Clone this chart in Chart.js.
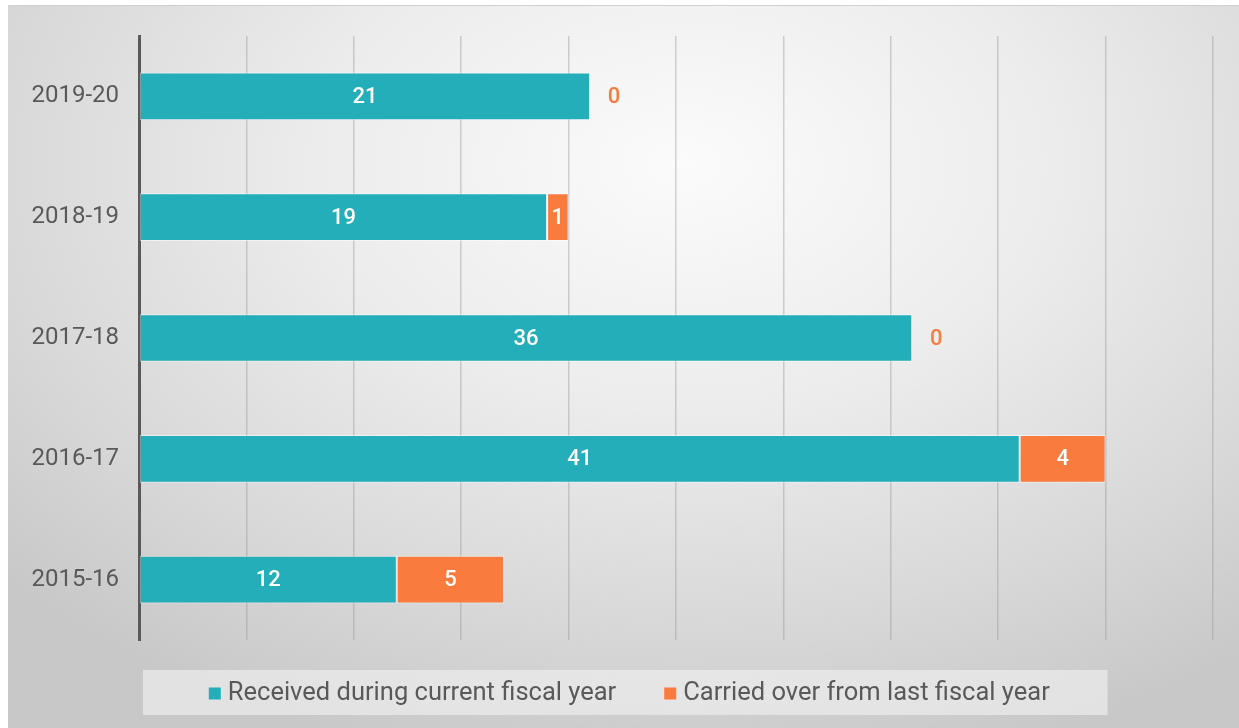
<!DOCTYPE html>
<html>
<head>
<meta charset="utf-8">
<script src="https://cdn.jsdelivr.net/npm/chart.js@4"></script>
<style>
  html, body { margin: 0; padding: 0; background: #fff; }
  #bg {
    position: absolute; left: 8px; top: 5px; width: 1231px; height: 723px;
    border-top: 1px solid #cfcfcf;
    background: radial-gradient(ellipse 75% 85% at 55% 22%, #fbfbfb 0%, #ececec 40%, #d8d8d8 75%, #c8c8c8 100%);
  }
  #wrap { position: absolute; left: 0; top: 0; width: 1239px; height: 728px; }
</style>
</head>
<body>
<div id="bg"></div>
<div id="wrap"><canvas id="myChart" width="1239" height="728"></canvas></div>
<script>
// data
var categories = ['2019-20', '2018-19', '2017-18', '2016-17', '2015-16'];
var receivedCurrent = [21, 19, 36, 41, 12];
var carriedOver = [0, 1, 0, 4, 5];
var seriesNames = ['Received during current fiscal year', 'Carried over from last fiscal year'];
var xMax = 50;
var xStep = 5;

var teal = '#23AEB9';
var orange = '#F97B3D';
var textGrey = '#595959';

// draws the value labels, zero values go just past the bar in orange
var valueLabels = {
    id: 'valueLabels',
    afterDatasetsDraw: function (chart) {
        var ctx = chart.ctx;
        ctx.save();
        ctx.font = '500 22px Roboto';
        ctx.textBaseline = 'middle';
        ctx.textAlign = 'center';
        chart.data.datasets.forEach(function (ds, i) {
            var meta = chart.getDatasetMeta(i);
            meta.data.forEach(function (bar, j) {
                var v = ds.data[j];
                if (v === 0) {
                    ctx.fillStyle = orange;
                    ctx.fillText(v, bar.x + 24, bar.y + 1);
                } else {
                    ctx.fillStyle = '#ffffff';
                    ctx.fillText(v, (bar.x + bar.base) / 2, bar.y + 1);
                }
            });
        });
        ctx.restore();
    }
};

// legend drawn by hand so the spacing can match (box behind it too)
var boxLegend = {
    id: 'boxLegend',
    afterDraw: function (chart) {
        var ctx = chart.ctx;
        var area = chart.chartArea;
        var boxLeft = area.left + 4;
        var boxRight = chart.scales.x.getPixelForValue(45) + 2;
        var boxTop = area.bottom + 30;
        var boxH = 45;
        ctx.save();
        ctx.fillStyle = 'rgba(240,240,240,0.65)';
        ctx.fillRect(boxLeft, boxTop, boxRight - boxLeft, boxH);

        ctx.font = '25.5px Roboto';
        ctx.textBaseline = 'middle';
        ctx.textAlign = 'left';
        var sw = 12, gap = 7, itemGap = 48;
        var widths = chart.data.datasets.map(function (ds) { return ctx.measureText(ds.label).width; });
        var total = 0;
        widths.forEach(function (w, i) { total += sw + gap + w + (i > 0 ? itemGap : 0); });
        var x = (boxLeft + boxRight) / 2 - total / 2 + 4;
        var cy = boxTop + boxH / 2 + 1;
        chart.data.datasets.forEach(function (ds, i) {
            ctx.fillStyle = ds.backgroundColor;
            ctx.fillRect(x, cy - 6, sw, sw);
            ctx.fillStyle = textGrey;
            ctx.fillText(ds.label, x + sw + gap, cy);
            x += sw + gap + widths[i] + itemGap;
        });
        ctx.restore();
    }
};

var ctx = document.getElementById('myChart').getContext('2d');
var myChart = new Chart(ctx, {
    type: 'bar',
    data: {
        labels: categories,
        datasets: [{
            label: seriesNames[0],
            data: receivedCurrent,
            backgroundColor: teal,
            borderColor: 'rgba(255,255,255,0.5)',
            borderWidth: 1,
            borderSkipped: false
        }, {
            label: seriesNames[1],
            data: carriedOver,
            backgroundColor: orange,
            borderColor: 'rgba(255,255,255,0.5)',
            borderWidth: 1,
            borderSkipped: false
        }]
    },
    options: {
        indexAxis: 'y',
        responsive: false,
        animation: false,
        barPercentage: 0.79,
        categoryPercentage: 0.5,
        layout: { padding: { left: 0, right: 26, top: 36, bottom: 88 } },
        scales: {
            x: {
                stacked: true,
                min: 0,
                max: xMax,
                ticks: { display: false, stepSize: xStep },
                grid: { color: 'rgba(150,150,150,0.42)', lineWidth: 1.5, drawTicks: false },
                border: { display: false },
                afterFit: function (axis) { axis.height = 0; }
            },
            y: {
                stacked: true,
                ticks: { color: textGrey, font: { family: 'Roboto', size: 24 }, padding: 20 },
                grid: { display: false, drawTicks: false },
                border: { color: textGrey, width: 3 },
                afterFit: function (axis) { axis.width = 139; }
            }
        },
        plugins: {
            legend: { display: false },
            tooltip: { enabled: false }
        }
    },
    plugins: [valueLabels, boxLegend]
});
</script>
</body>
</html>
